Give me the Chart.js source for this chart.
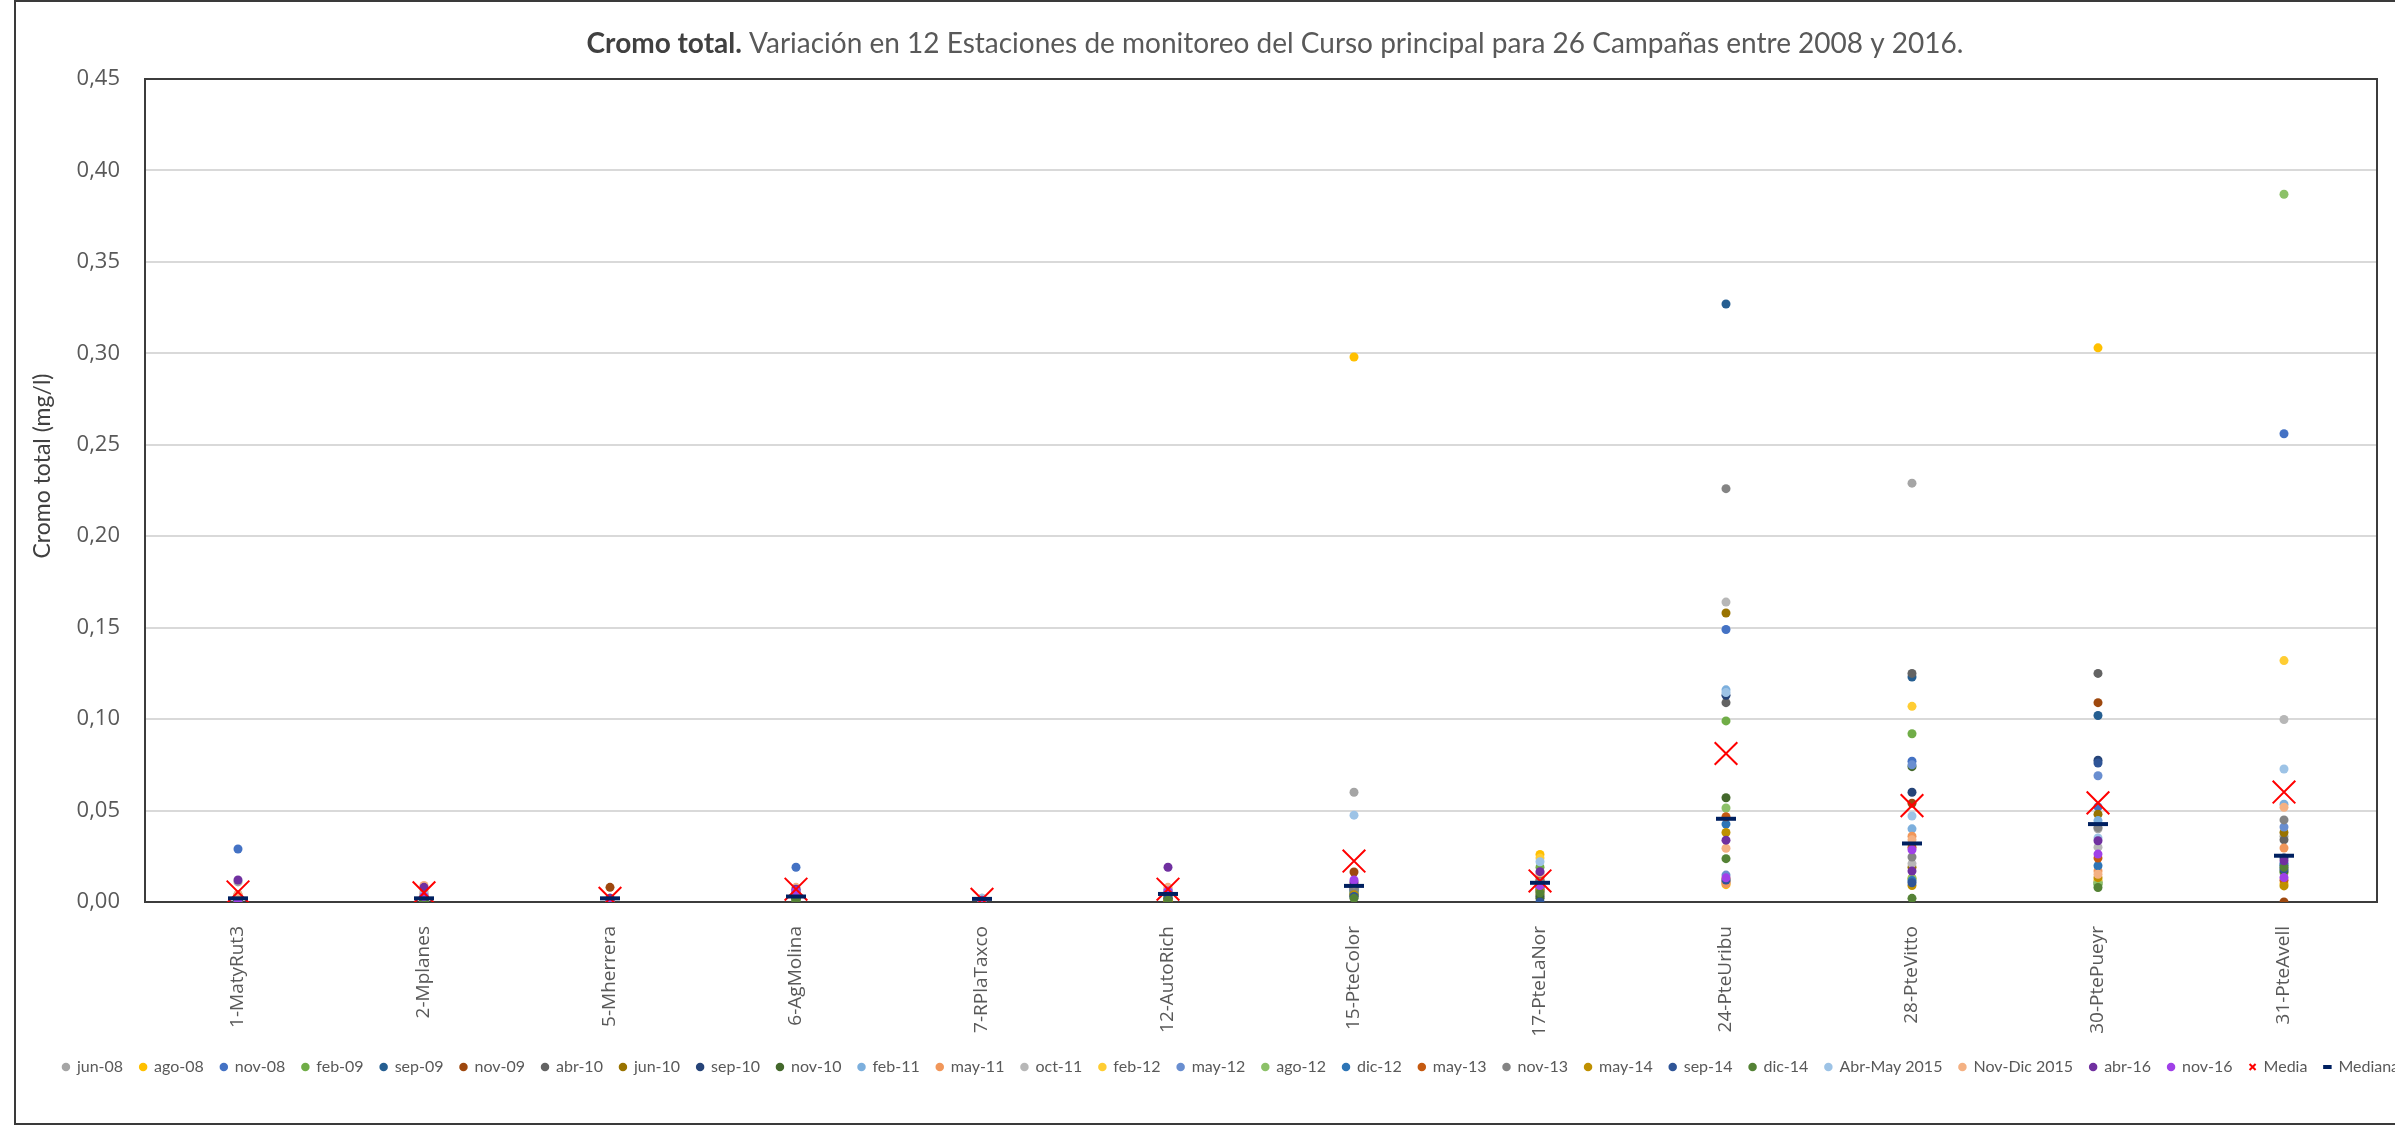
<!DOCTYPE html>
<html lang="es">
<head>
<meta charset="utf-8">
<title>Cromo total</title>
<script src="https://cdn.jsdelivr.net/npm/chart.js@4.4.1/dist/chart.umd.min.js"></script>
<style>
  html, body { margin: 0; padding: 0; background: #fff; overflow: hidden; }
  body { width: 2395px; height: 1137px; position: relative; }
  #frame { position: absolute; left: 14px; top: 0; width: 2430px; height: 1121px; border: 2px solid #3a3a3a; background: #fff; }
  #frame canvas { display: block; }
</style>
</head>
<body>
<div id="frame"><canvas id="chart" width="2430" height="1121"></canvas></div>
<script>
// estaciones del curso principal
const stations = ['1-MatyRut3', '2-Mplanes', '5-Mherrera', '6-AgMolina', '7-RPlaTaxco', '12-AutoRich',
  '15-PteColor', '17-PteLaNor', '24-PteUribu', '28-PteVitto', '30-PtePueyr', '31-PteAvell'];

// campañas de muestreo y su color
const campaigns = ['jun-08', 'ago-08', 'nov-08', 'feb-09', 'sep-09', 'nov-09', 'abr-10', 'jun-10', 'sep-10',
  'nov-10', 'feb-11', 'may-11', 'oct-11', 'feb-12', 'may-12', 'ago-12', 'dic-12', 'may-13', 'nov-13', 'may-14',
  'sep-14', 'dic-14', 'Abr-May 2015', 'Nov-Dic 2015', 'abr-16', 'nov-16'];
const campaignColors = ['#A5A5A5', '#FFC000', '#4472C4', '#70AD47', '#255E91', '#9E480E', '#636363', '#997300',
  '#264478', '#43682B', '#7CAFDD', '#F1975A', '#B7B7B7', '#FFCD33', '#698ED0', '#8CC168', '#2E75B6', '#C55A11',
  '#848484', '#BF9000', '#2F5597', '#548235', '#9DC3E6', '#F4B183', '#7030A0', '#A040E8'];

// Cr total (mg/l), una fila por campaña, una columna por estación
const crTotal = [
  [0.011, 0.004, 0.002, 0.005, 0.001, 0.006, 0.060, 0.008, 0.012, 0.229, 0.040, 0.036],   // jun-08
  [0.002, 0.001, 0.000, 0.002, 0.000, 0.001, 0.298, 0.026, 0.0095, 0.013, 0.303, 0.010],  // ago-08
  [0.029, 0.002, 0.001, 0.019, 0.001, 0.004, 0.006, 0.014, 0.149, 0.077, 0.052, 0.256],   // nov-08
  [0.000, 0.000, 0.000, 0.001, 0.000, 0.002, 0.004, 0.019, 0.099, 0.092, 0.0097, 0.016],  // feb-09
  [0.001, 0.002, 0.001, 0.003, 0.000, 0.003, 0.007, 0.006, 0.327, 0.123, 0.102, 0.020],   // sep-09
  [0.002, 0.003, 0.008, 0.004, 0.001, 0.005, 0.0164, 0.010, 0.011, 0.054, 0.109, 0.000], // nov-09
  [0.002, 0.001, 0.001, 0.003, 0.001, 0.004, 0.008, 0.007, 0.109, 0.125, 0.125, 0.034],   // abr-10
  [0.001, 0.001, 0.000, 0.002, 0.000, 0.003, 0.005, 0.004, 0.158, 0.019, 0.048, 0.038],   // jun-10
  [0.001, 0.001, 0.001, 0.002, 0.000, 0.002, 0.004, 0.003, 0.113, 0.060, 0.0775, 0.024],  // sep-10
  [0.001, 0.001, 0.000, 0.002, 0.000, 0.002, 0.003, 0.002, 0.057, 0.074, 0.011, 0.017],   // nov-10
  [0.003, 0.002, 0.001, 0.006, 0.002, 0.006, 0.009, 0.012, 0.116, 0.040, 0.0445, 0.0535],// feb-11
  [0.004, 0.005, 0.001, 0.006, 0.001, 0.007, 0.009, 0.011, 0.010, 0.036, 0.017, 0.0295],  // may-11
  [0.004, 0.006, 0.002, 0.007, 0.002, 0.007, 0.010, 0.015, 0.164, 0.021, 0.030, 0.0998],  // oct-11
  [0.002, 0.001, 0.001, 0.003, 0.001, 0.003, 0.006, 0.024, 0.013, 0.107, 0.012, 0.132],   // feb-12
  [0.003, 0.002, 0.001, 0.005, 0.001, 0.004, 0.007, 0.010, 0.0147, 0.075, 0.069, 0.041],  // may-12
  [0.002, 0.001, 0.000, 0.003, 0.001, 0.003, 0.005, 0.009, 0.0514, 0.013, 0.010, 0.387],  // ago-12
  [0.002, 0.002, 0.001, 0.004, 0.001, 0.004, 0.006, 0.008, 0.0426, 0.0117, 0.0198, 0.021],// dic-12
  [0.003, 0.002, 0.001, 0.005, 0.001, 0.005, 0.008, 0.012, 0.0466, 0.030, 0.024, 0.0119], // may-13
  [0.003, 0.003, 0.001, 0.004, 0.001, 0.005, 0.007, 0.011, 0.226, 0.0246, 0.0408, 0.0449],// nov-13
  [0.001, 0.001, 0.000, 0.002, 0.000, 0.001, 0.004, 0.006, 0.038, 0.009, 0.0133, 0.0088], // may-14
  [0.001, 0.001, 0.000, 0.002, 0.000, 0.002, 0.003, 0.000, 0.012, 0.0105, 0.076, 0.018],  // sep-14
  [0.000, 0.000, 0.000, 0.001, 0.000, 0.001, 0.002, 0.005, 0.0237, 0.002, 0.0079, 0.019], // dic-14
  [0.003, 0.004, 0.001, 0.007, 0.002, 0.006, 0.0475, 0.022, 0.1145, 0.047, 0.035, 0.0727],// Abr-May 2015
  [0.004, 0.009, 0.002, 0.008, 0.001, 0.008, 0.010, 0.016, 0.0294, 0.034, 0.0152, 0.0518],// Nov-Dic 2015
  [0.012, 0.008, 0.002, 0.007, 0.001, 0.019, 0.011, 0.0166, 0.0338, 0.0169, 0.0335, 0.0225], // abr-16
  [0.000, 0.003, 0.000, 0.006, 0.000, 0.006, 0.012, 0.009, 0.0132, 0.0286, 0.0262, 0.0134]  // nov-16
];

// estadísticos por estación
const media = [0.0055, 0.005, 0.002, 0.007, 0.0015, 0.007, 0.0224, 0.0115, 0.0812, 0.0527, 0.0542, 0.0601];
const mediana = [0.002, 0.002, 0.002, 0.003, 0.0017, 0.0044, 0.0088, 0.0105, 0.0455, 0.032, 0.0426, 0.0253];

const yMin = 0, yMax = 0.45, yStep = 0.05;

const tickGray = '#595959';

// marco del área de trazado, por debajo de los puntos
const plotBorder = {
  id: 'plotBorder',
  beforeDatasetsDraw(chart) {
    const { ctx, chartArea: a } = chart;
    ctx.save();
    ctx.strokeStyle = '#3c3c3c';
    ctx.lineWidth = 2;
    ctx.strokeRect(a.left, a.top, a.right - a.left, a.bottom - a.top);
    ctx.restore();
  }
};

// título (primera parte en negrita) y rótulo del eje vertical
const chartTexts = {
  id: 'chartTexts',
  afterDraw(chart) {
    const ctx = chart.ctx;
    const boldPart = 'Cromo total.';
    const rest = ' Variación en 12 Estaciones de monitoreo del Curso principal para 26 Campañas entre 2008 y 2016.';
    const boldFont = 'bold 28px Lato';
    const normFont = '28px Lato';
    ctx.save();
    ctx.font = boldFont;
    const w1 = ctx.measureText(boldPart).width;
    ctx.font = normFont;
    const w2 = ctx.measureText(rest).width;
    const x = 1259 - (w1 + w2) / 2;
    ctx.textBaseline = 'middle';
    ctx.fillStyle = '#404040';
    ctx.font = boldFont;
    ctx.fillText(boldPart, x, 42);
    ctx.fillStyle = tickGray;
    ctx.font = normFont;
    ctx.fillText(rest, x + w1, 42);

    ctx.translate(27, 464);
    ctx.rotate(-Math.PI / 2);
    ctx.textAlign = 'center';
    ctx.fillStyle = '#404040';
    ctx.font = '23px Lato';
    ctx.fillText('Cromo total (mg/l)', 0, 0);
    ctx.restore();
  }
};

const datasets = campaigns.map((name, i) => ({
  label: name,
  data: crTotal[i],
  showLine: false,
  pointRadius: 4.5,
  pointHoverRadius: 4.5,
  pointBorderWidth: 0,
  borderWidth: 0,
  pointBackgroundColor: campaignColors[i],
  backgroundColor: campaignColors[i],
  borderColor: campaignColors[i],
  order: campaigns.length - i + 2
}));

datasets.push({
  label: 'Media',
  data: media,
  showLine: false,
  pointStyle: 'crossRot',
  pointRadius: 16,
  pointBorderWidth: 2,
  pointBorderColor: '#FF0000',
  borderColor: '#FF0000',
  backgroundColor: '#FF0000',
  order: 1
});
datasets.push({
  label: 'Mediana',
  data: mediana,
  showLine: false,
  pointStyle: 'line',
  pointRadius: 10,
  pointBorderWidth: 4,
  pointBorderColor: '#002060',
  borderColor: '#002060',
  backgroundColor: '#002060',
  order: 0
});

new Chart(document.getElementById('chart'), {
  type: 'line',
  data: { labels: stations, datasets },
  plugins: [plotBorder, chartTexts],
  options: {
    responsive: false,
    animation: false,
    layout: { padding: { top: 77, right: 0, bottom: 38, left: 0 } },
    plugins: {
      title: { display: false },
      tooltip: { enabled: false },
      legend: {
        position: 'bottom',
        labels: {
          usePointStyle: true,
          boxWidth: 6,
          boxHeight: 6,
          padding: 17,
          color: tickGray,
          font: { family: 'Lato', size: 16 },
          sort: (a, b) => a.datasetIndex - b.datasetIndex
        }
      }
    },
    scales: {
      x: {
        offset: true,
        grid: { display: false, offset: true },
        border: { display: false },
        ticks: {
          autoSkip: false,
          maxRotation: 90,
          minRotation: 90,
          padding: 16,
          color: tickGray,
          font: { family: 'Open Sans', size: 19 }
        },
        afterFit(scale) { scale.height = 140; }
      },
      y: {
        min: yMin,
        max: yMax,
        grid: { color: '#d9d9d9', lineWidth: 2, drawTicks: false },
        border: { display: false },
        ticks: {
          stepSize: yStep,
          padding: 25,
          color: tickGray,
          font: { family: 'Open Sans', size: 22 },
          callback: v => v.toFixed(2).replace('.', ',')
        },
        afterFit(scale) { scale.width = 129; }
      },
      // espacio vacío a la derecha del área de trazado
      yRight: {
        position: 'right',
        min: yMin,
        max: yMax,
        grid: { display: false },
        border: { display: false },
        ticks: { display: false },
        afterFit(scale) { scale.width = 69; }
      }
    }
  }
});
</script>
</body>
</html>
